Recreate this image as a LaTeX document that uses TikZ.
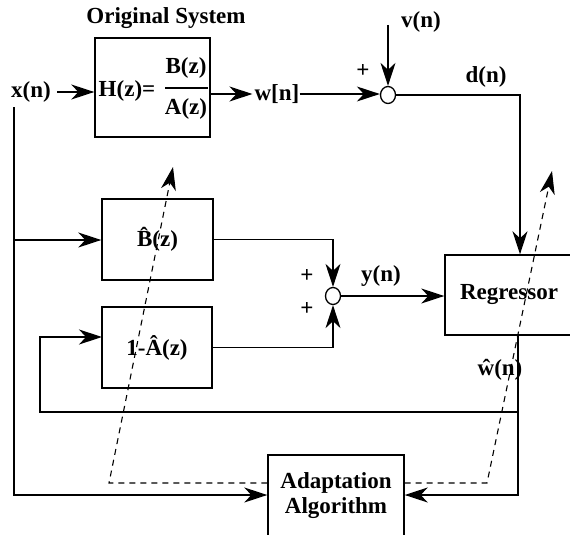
\documentclass[tikz,border=0pt]{standalone}
\usepackage{fontspec}
\setmainfont{Liberation Serif}
\usetikzlibrary{arrows.meta,shapes.geometric}
\begin{document}
\begin{tikzpicture}[x=1pt,y=-1pt,
  lbl/.style={font=\bfseries\fontsize{23}{25}\selectfont, inner sep=0pt},
  blk/.style={draw, line width=1.4pt, inner sep=0pt, font=\bfseries\fontsize{23}{25}\selectfont},
  wire/.style={line width=1.3pt},
  tipS/.style={-{Stealth[length=23pt,width=15pt,inset=7pt]}},
  arr/.style={wire, tipS},
  dsh/.style={line width=1.1pt, dash pattern=on 6pt off 5pt, tipS},
  sumn/.style={draw, ellipse, line width=1.3pt, minimum width=15pt, minimum height=17pt, inner sep=0pt}]
\clip (0,0) rectangle (570,535);
\fill[white] (0,0) rectangle (570,535);
% Original system
\node[lbl] (title) at (166,18) {Original System};
\node[blk, minimum width=115pt, minimum height=99pt] (H) at (152.5,87.5) {};
\node[lbl] (Hz) at (127,91) {H(z)=};
\node[lbl] (Bz) at (186,68) {B(z)};
\node[lbl] (Az) at (186,109) {A(z)};
\draw[wire] (Bz.south west |- 0,88) -- (208,88);
\node[lbl] (xn) at (31,92) {x(n)};
\draw[arr, shorten <=6pt] (xn.east) -- (xn.east -| H.west);
\node[lbl] (wn) at (277,94) {w[n]};
\draw[arr, shorten >=2pt] (H.east |- wn) -- (wn.west);
\node[sumn] (s1) at (388,95) {};
\draw[arr] (wn.east) -- (wn.east -| s1.west);
\node[lbl] (p1) at (363,71) {+};
\node[lbl] (vn) at (421,22) {v(n)};
\coordinate (vtop) at (388,25);
\draw[arr] (vtop) -- (s1.north);
\node[lbl] (dn) at (486,77) {d(n)};
% Regressor
\node[blk, minimum width=128pt, minimum height=80pt] (R) at (509,295) {Regressor};
\coordinate (dcorner) at (520,95);
\draw[arr] (s1.east) -- (dcorner) -- (dcorner |- R.north);
% Model blocks
\node[blk, minimum width=111pt, minimum height=81pt] (B) at (157.5,239.5) {\^{B}(z)};
\node[blk, minimum width=110pt, minimum height=81pt] (A) at (157,347.5) {1-\^{A}(z)};
\node[sumn] (s2) at (333,296) {};
\draw[arr] (B.east) -| (s2.north);
\draw[arr] (A.east) -| (s2.south);
\node[lbl] (p2) at (307,276) {+};
\node[lbl] (p3) at (307,309) {+};
\node[lbl] (yn) at (381,276) {y(n)};
\draw[arr] (s2.east) -- (s2.east -| R.west);
% Adaptation
\node[draw, line width=1.4pt, minimum width=136pt, minimum height=100pt] (AD) at (336,505) {};
\node[lbl, align=center] (ADt) at (336,496) {Adaptation\\Algorithm};
% x(n) wiring
\coordinate (xtop) at (14,107);
\coordinate (xbot) at (14,495);
\draw[arr] (xtop) -- (xbot) -- (xbot -| AD.west);
\coordinate (xb) at (14,240);
\draw[arr] (xb) -- (xb -| B.west);
% w-hat wiring
\coordinate (rtop) at (518,335);
\coordinate (rbot) at (518,495);
\draw[arr] (rtop) -- (rbot) -- (rbot -| AD.east);
\coordinate (lr) at (518,412);
\coordinate (ll) at (40,412);
\coordinate (ain) at (102,337);
\draw[arr] (lr) -- (ll) |- (ain);
\node[lbl] (wh) at (500,370) {\^{w}(n)};
% dashed adaptation paths
\coordinate (dl) at (109,483);
\coordinate (dlt) at (173,167);
\draw[dsh] (AD.west |- dl) -- (dl) -- (dlt);
\coordinate (dr) at (487,483);
\coordinate (drt) at (552,171);
\draw[dsh] (AD.east |- dr) -- (dr) -- (drt);
\end{tikzpicture}
\end{document}
